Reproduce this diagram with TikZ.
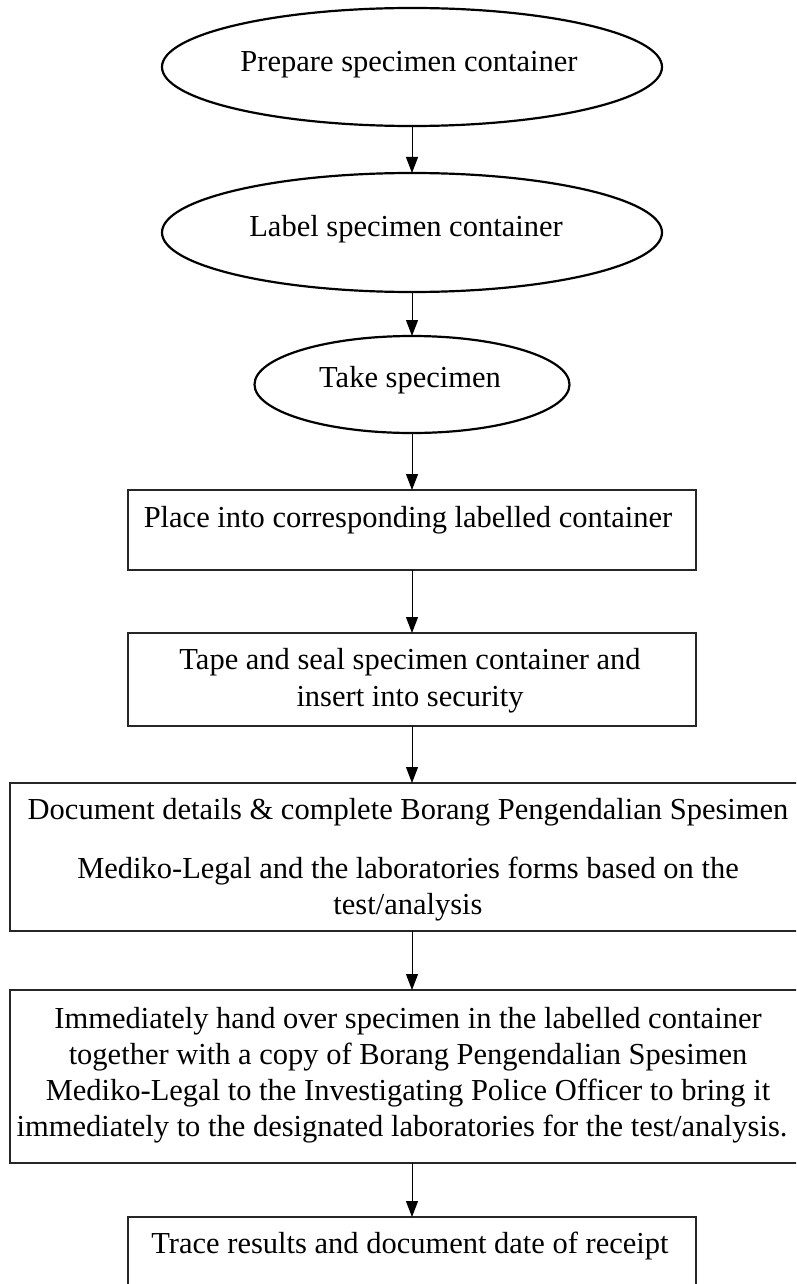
\documentclass[tikz,border=0pt]{standalone}
\usepackage{fontspec}
\setmainfont{Liberation Serif}
\usetikzlibrary{arrows.meta,shapes.geometric}

\begin{document}
\begin{tikzpicture}[x=1pt,y=-1pt,
  every node/.style={inner sep=0pt,outer sep=0pt},
  oval/.style={draw,ellipse,line width=2.2pt},
  stepbox/.style={draw,rectangle,line width=1.3pt,draw=black!85},
  txt/.style={font=\fontsize{30.5}{37}\selectfont,anchor=base},
  flow/.style={-{Triangle[length=16pt,width=12pt]},line width=1pt}
]
% page frame; the two wide boxes and the last box run past it
\clip (0,0) rectangle (796,1284);
\fill[white] (0,0) rectangle (796,1284);

% shapes
\node[oval,minimum width=500pt,minimum height=118pt] (e1) at (412,67) {};
\node[oval,minimum width=500pt,minimum height=119pt] (e2) at (412,232.5) {};
\node[oval,minimum width=315pt,minimum height=97pt]  (e3) at (412,384.5) {};
\node[stepbox,minimum width=568pt,minimum height=80pt]  (b1) at (412,530) {};
\node[stepbox,minimum width=568pt,minimum height=93pt]  (b2) at (412,679.5) {};
\node[stepbox,minimum width=804pt,minimum height=148pt] (b3) at (412,857) {};
\node[stepbox,minimum width=804pt,minimum height=173pt] (b4) at (412,1076.5) {};
\node[stepbox,minimum width=568pt,minimum height=80pt]  (b5) at (412,1257) {};

% texts
\node[txt] (t1) at (409,72) {Prepare specimen container};
\node[txt] (t2) at (406,236) {Label specimen container};
\node[txt] (t3) at (410,387) {Take specimen};
\node[txt] (t4) at (408,527) {Place into corresponding labelled container};
\node[txt] (t5a) at (410,669) {Tape and seal specimen container and};
\node[txt] (t5b) at (410,706) {insert into security};
\node[txt] (t6a) at (408,819) {Document details \& complete Borang Pengendalian Spesimen};
\node[txt] (t6b) at (408,878) {Mediko-Legal and the laboratories forms based on the};
\node[txt] (t6c) at (408,914) {test/analysis};
\node[txt] (t7a) at (408,1028) {Immediately hand over specimen in the labelled container};
\node[txt] (t7b) at (408,1064) {together with a copy of Borang Pengendalian Spesimen};
\node[txt] (t7c) at (408,1100) {Mediko-Legal to the Investigating Police Officer to bring it};
\node[txt] (t7d) at (402,1136) {immediately to the designated laboratories for the test/analysis.};
\node[txt] (t8) at (410,1253) {Trace results and document date of receipt};

% connectors
\draw[flow] (e1.south) -- (e2.north);
\draw[flow] (e2.south) -- (e3.north);
\draw[flow] (e3.south) -- (b1.north);
\draw[flow] (b1.south) -- (b2.north);
\draw[flow] (b2.south) -- (b3.north);
\draw[flow] (b3.south) -- (b4.north);
\draw[flow] (b4.south) -- (b5.north);
\end{tikzpicture}
\end{document}
